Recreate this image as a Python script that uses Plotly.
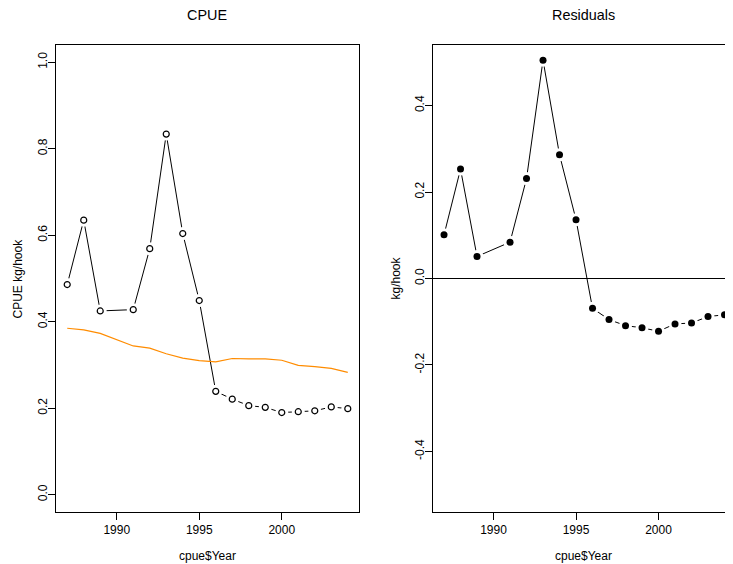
import plotly.graph_objects as go

years = [1987, 1988, 1989, 1991, 1992, 1993, 1994, 1995, 1996, 1997,
         1998, 1999, 2000, 2001, 2002, 2003, 2004]
cpue = [0.486, 0.635, 0.425, 0.428, 0.569, 0.834, 0.604, 0.449, 0.239,
        0.221, 0.206, 0.202, 0.190, 0.192, 0.194, 0.203, 0.199]
pred = [0.385, 0.381, 0.373, 0.344, 0.339, 0.326, 0.316, 0.310, 0.307,
        0.315, 0.314, 0.314, 0.311, 0.299, 0.296, 0.292, 0.283]
resid = [0.101, 0.253, 0.051, 0.084, 0.231, 0.505, 0.286, 0.136, -0.069,
         -0.095, -0.109, -0.114, -0.122, -0.105, -0.103, -0.088, -0.084]

left_yticks = [0.0, 0.2, 0.4, 0.6, 0.8, 1.0]
right_yticks = [-0.4, -0.2, 0.0, 0.2, 0.4]
xticks = [1990, 1995, 2000]

OFF = 8  # page body margin
W, H = 733 - OFF, 564 - OFF
FONT = "Liberation Sans, Arial, Helvetica, sans-serif"

fig = go.Figure()

# Left panel: observed CPUE (type="b", pch="o")
fig.add_trace(go.Scatter(x=years, y=cpue, mode="lines",
                         line=dict(color="black", width=1), xaxis="x", yaxis="y"))
fig.add_trace(go.Scatter(x=years, y=cpue, mode="markers",
                         marker=dict(symbol="circle", size=13, color="white", line=dict(width=0)),
                         xaxis="x", yaxis="y"))
fig.add_trace(go.Scatter(x=years, y=cpue, mode="markers",
                         marker=dict(symbol="circle-open", size=6, color="black", line=dict(width=1.2)),
                         xaxis="x", yaxis="y"))
fig.add_trace(go.Scatter(x=years, y=pred, mode="lines",
                         line=dict(color="#ff8c00", width=1.2), xaxis="x", yaxis="y"))

# Right panel: residuals (type="b", pch=19)
fig.add_trace(go.Scatter(x=years, y=resid, mode="lines",
                         line=dict(color="black", width=1), xaxis="x2", yaxis="y2"))
fig.add_trace(go.Scatter(x=years, y=resid, mode="markers",
                         marker=dict(symbol="circle", size=13, color="white", line=dict(width=0)),
                         xaxis="x2", yaxis="y2"))
fig.add_trace(go.Scatter(x=years, y=resid, mode="markers",
                         marker=dict(symbol="circle", size=7, color="black", line=dict(width=0)),
                         xaxis="x2", yaxis="y2"))

px_per_year = 16.5
x0 = 1986.32
lx0, lx1 = 56 - OFF, 359 - OFF
rx0 = 432.8 - OFF
ytop, ybot = 45 - OFF, 512 - OFF

common_x = dict(showgrid=False, zeroline=False, showline=True, linecolor="black", linewidth=1,
                ticks="outside", ticklen=7, tickcolor="black", tickwidth=1,
                tickvals=xticks, ticktext=[str(v) for v in xticks],
                tickfont=dict(family=FONT, size=12, color="black"))
common_y = dict(showgrid=False, zeroline=False, showline=True, linecolor="black", linewidth=1,
                ticks="outside", ticklen=7, tickcolor="black", tickwidth=1, tickangle=-90,
                ticklabelstandoff=-4,
                tickfont=dict(family=FONT, size=12, color="black"))

fig.update_layout(
    width=W, height=H, margin=dict(l=0, r=0, t=0, b=0),
    plot_bgcolor="white", paper_bgcolor="white", showlegend=False,
    xaxis=dict(domain=[lx0 / W, lx1 / W], range=[x0, 2004.68], mirror=True, anchor="y", **common_x),
    yaxis=dict(domain=[(H - ybot) / H, (H - ytop) / H], range=[-0.04, 1.04], mirror=True, anchor="x",
               tickvals=left_yticks, ticktext=[f"{v:.1f}" for v in left_yticks], **common_y),
    xaxis2=dict(domain=[rx0 / W, 1.0], range=[x0, x0 + (W - rx0) / px_per_year], mirror=True, anchor="y2",
                **common_x),
    yaxis2=dict(domain=[(H - ybot) / H, (H - ytop) / H], range=[-0.54, 0.54], mirror=False, anchor="x2",
                tickvals=right_yticks, ticktext=[f"{v:.1f}" for v in right_yticks], **common_y),
)

# horizontal zero line in residual panel
fig.add_shape(type="line", xref="x2 domain", yref="y2", x0=0, x1=1, y0=0, y1=0,
              line=dict(color="black", width=1))

def ann(text, x, y, size, angle=0):
    fig.add_annotation(text=text, x=(x - OFF) / W, y=(H - (y - OFF)) / H, xref="paper", yref="paper",
                       showarrow=False, textangle=angle, xanchor="center", yanchor="middle",
                       font=dict(family=FONT, size=size, color="black"))

ann("CPUE", 207.5, 15, 14.4)
ann("Residuals", 583.5, 15, 14.4)
ann("cpue$Year", 207.5, 556, 12)
ann("cpue$Year", 583.5, 556, 12)
ann("CPUE kg/hook", 17, 278.5, 12, -90)
ann("kg/hook", 395, 278.5, 12, -90)

fig.write_html("out.html")
